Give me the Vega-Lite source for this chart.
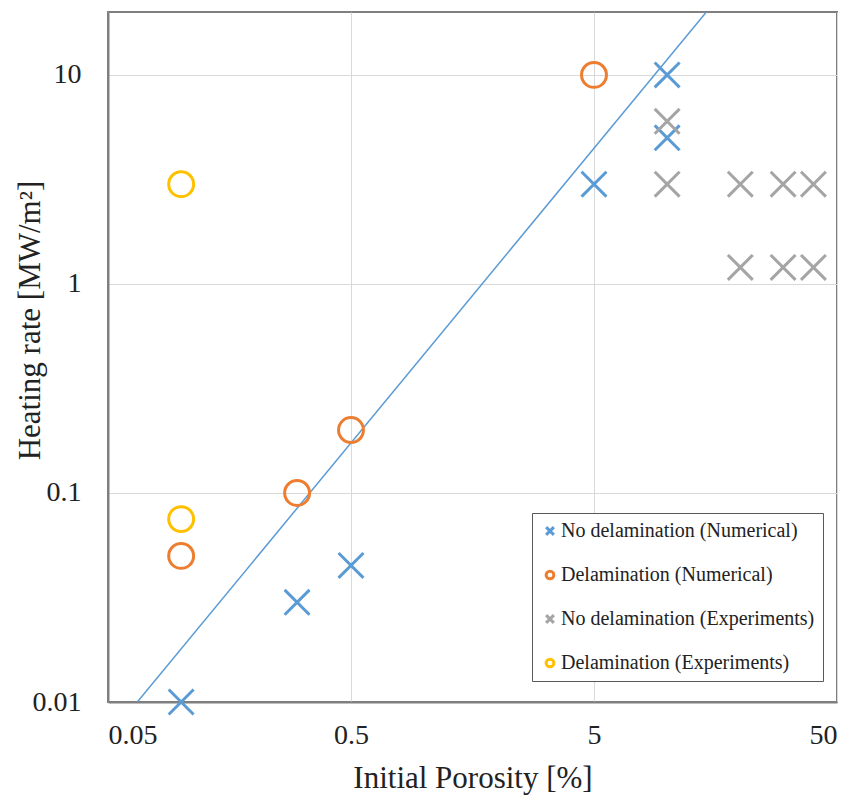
{
  "$schema": "https://vega.github.io/schema/vega-lite/v6.json",
  "autosize": "none",
  "width": 729,
  "height": 690,
  "padding": {"left": 108, "top": 12, "right": 18, "bottom": 93},
  "background": "white",
  "config": {
    "font": "Liberation Serif",
    "view": {"stroke": "#7f7f7f", "strokeWidth": 2},
    "axis": {"labelFont": "Liberation Serif", "titleFont": "Liberation Serif", "labelColor": "#222", "titleColor": "#222", "titleFontWeight": "normal", "gridColor": "#d9d9d9", "gridWidth": 1, "ticks": false, "domainColor": "#7f7f7f", "domainWidth": 2, "labelFontSize": 28, "titleFontSize": 31}
  },
  "datasets": {
    "points": [
      {"series": "No delamination (Numerical)", "porosity": 0.1, "rate": 0.01},
      {"series": "No delamination (Numerical)", "porosity": 0.3, "rate": 0.03},
      {"series": "No delamination (Numerical)", "porosity": 0.5, "rate": 0.045},
      {"series": "No delamination (Numerical)", "porosity": 5, "rate": 3},
      {"series": "No delamination (Numerical)", "porosity": 10, "rate": 10},
      {"series": "No delamination (Numerical)", "porosity": 10, "rate": 5},
      {"series": "Delamination (Numerical)", "porosity": 0.1, "rate": 0.05},
      {"series": "Delamination (Numerical)", "porosity": 0.3, "rate": 0.1},
      {"series": "Delamination (Numerical)", "porosity": 0.5, "rate": 0.2},
      {"series": "Delamination (Numerical)", "porosity": 5, "rate": 10},
      {"series": "No delamination (Experiments)", "porosity": 10, "rate": 6},
      {"series": "No delamination (Experiments)", "porosity": 10, "rate": 3},
      {"series": "No delamination (Experiments)", "porosity": 20, "rate": 3},
      {"series": "No delamination (Experiments)", "porosity": 30, "rate": 3},
      {"series": "No delamination (Experiments)", "porosity": 40, "rate": 3},
      {"series": "No delamination (Experiments)", "porosity": 20, "rate": 1.2},
      {"series": "No delamination (Experiments)", "porosity": 30, "rate": 1.2},
      {"series": "No delamination (Experiments)", "porosity": 40, "rate": 1.2},
      {"series": "Delamination (Experiments)", "porosity": 0.1, "rate": 3},
      {"series": "Delamination (Experiments)", "porosity": 0.1, "rate": 0.075}
    ],
    "fit": [
      {"porosity": 0.066, "rate": 0.01},
      {"porosity": 14.5, "rate": 20}
    ]
  },
  "layer": [
    {
      "data": {"name": "fit"},
      "mark": {"type": "line", "color": "#5b9bd5", "strokeWidth": 1.5, "clip": true},
      "encoding": {
        "x": {"field": "porosity", "type": "quantitative", "scale": {"type": "log", "domain": [0.05, 50], "nice": false}, "axis": {"values": [0.05, 0.5, 5, 50], "format": "~g", "title": "Initial Porosity [%]", "labelPadding": 19, "titlePadding": 14}},
        "y": {"field": "rate", "type": "quantitative", "scale": {"type": "log", "domain": [0.01, 20], "nice": false}, "axis": {"values": [0.01, 0.1, 1, 10], "format": "~g", "title": "Heating rate [MW/m²]", "labelPadding": 27, "titleX": -62, "titleY": 308, "titleBaseline": "bottom"}}
      }
    },
    {
      "data": {"name": "points"},
      "mark": {"type": "point", "filled": false, "strokeWidth": 3, "size": 620, "opacity": 1},
      "encoding": {
        "x": {"field": "porosity", "type": "quantitative"},
        "y": {"field": "rate", "type": "quantitative"},
        "color": {"field": "series", "type": "nominal", "scale": {"domain": ["No delamination (Numerical)", "Delamination (Numerical)", "No delamination (Experiments)", "Delamination (Experiments)"], "range": ["#5b9bd5", "#ed7d31", "#a5a5a5", "#ffc000"]},
          "legend": {"title": null, "orient": "none", "legendX": 424, "legendY": 501, "strokeColor": "#595959", "fillColor": "white", "padding": 8, "rowPadding": 24, "labelFont": "Liberation Serif", "labelFontSize": 20, "labelColor": "#222", "labelOffset": 1, "symbolSize": 60, "symbolStrokeWidth": 3, "labelLimit": 400}},
        "shape": {"field": "series", "type": "nominal", "scale": {"domain": ["No delamination (Numerical)", "Delamination (Numerical)", "No delamination (Experiments)", "Delamination (Experiments)"], "range": ["M-1,-1L1,1M-1,1L1,-1", "circle", "M-1,-1L1,1M-1,1L1,-1", "circle"]}}
      }
    }
  ]
}
